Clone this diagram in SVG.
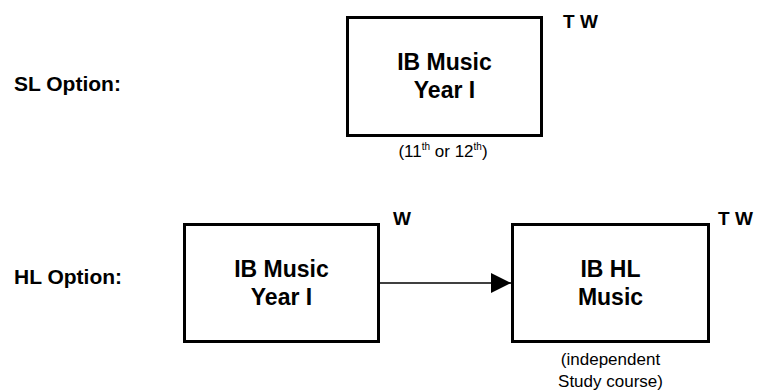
<svg xmlns="http://www.w3.org/2000/svg" width="768" height="390" viewBox="0 0 768 390">
<defs>
<style>
.box{fill:#fff;stroke:#000;stroke-width:3}
.nt{font-family:"Liberation Sans",Arial,sans-serif;font-weight:bold;font-size:23px;text-anchor:middle;fill:#000}
.lb{font-family:"Liberation Sans",Arial,sans-serif;font-weight:bold;font-size:21px;fill:#000}
.tw{font-family:"Liberation Sans",Arial,sans-serif;font-weight:bold;font-size:19px;fill:#000}
.sm{font-family:"Liberation Sans",Arial,sans-serif;font-size:17px;text-anchor:middle;fill:#000}
.con{stroke:#000;stroke-width:1.5;fill:none}
</style>
<marker id="ah" markerWidth="20" markerHeight="20" refX="20" refY="10" orient="auto" markerUnits="userSpaceOnUse">
<polygon points="0,0 20,10 0,20" fill="#000"/>
</marker>
</defs>
<rect width="768" height="390" fill="#fff"/>
<text class="lb" x="14" y="91">SL Option:</text>
<text class="lb" x="14" y="284">HL Option:</text>
<g id="sl-year1">
<rect class="box" x="347.5" y="17.5" width="194" height="118"/>
<text class="nt" x="444.5" y="70">IB Music</text>
<text class="nt" x="444.5" y="98">Year I</text>
<text class="tw" x="563" y="28">T W</text>
<text class="sm" x="443" y="157">(11<tspan font-size="10" dy="-7">th</tspan><tspan dy="7"> or 12</tspan><tspan font-size="10" dy="-7">th</tspan><tspan dy="7">)</tspan></text>
</g>
<g id="hl-year1">
<rect class="box" x="184.5" y="224.5" width="194" height="117"/>
<text class="nt" x="281.5" y="277">IB Music</text>
<text class="nt" x="281.5" y="305">Year I</text>
<text class="tw" x="393" y="225">W</text>
</g>
<g id="hl-music">
<rect class="box" x="512.5" y="224.5" width="196" height="117"/>
<text class="nt" x="610.5" y="277">IB HL</text>
<text class="nt" x="610.5" y="305">Music</text>
<text class="tw" x="718" y="225">T W</text>
<text class="sm" x="610.5" y="365">(independent</text>
<text class="sm" x="610.5" y="387">Study course)</text>
</g>
<g id="connectors">
<line class="con" x1="380" y1="283" x2="511" y2="283" marker-end="url(#ah)"/>
</g>
</svg>
